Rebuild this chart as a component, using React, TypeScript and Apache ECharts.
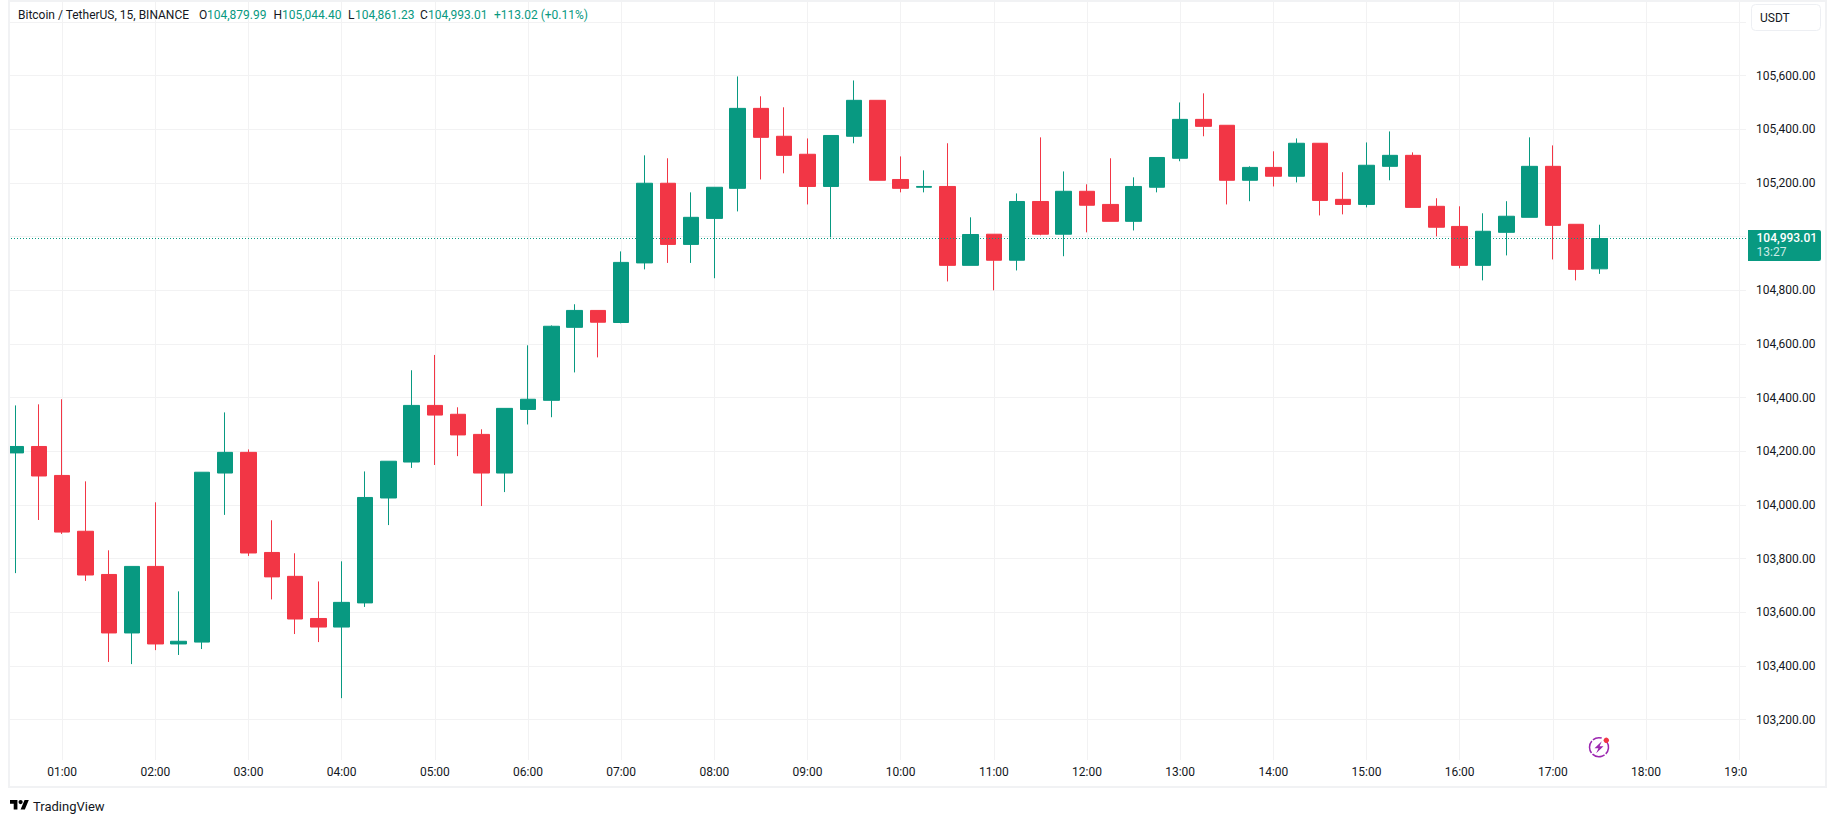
import React, { useEffect, useRef } from "react";
import * as echarts from "echarts";

const times = [
  "00:30","00:45","01:00","01:15","01:30","01:45","02:00","02:15","02:30","02:45","03:00","03:15","03:30","03:45",
  "04:00","04:15","04:30","04:45","05:00","05:15","05:30","05:45","06:00","06:15","06:30","06:45","07:00","07:15",
  "07:30","07:45","08:00","08:15","08:30","08:45","09:00","09:15","09:30","09:45","10:00","10:15","10:30","10:45",
  "11:00","11:15","11:30","11:45","12:00","12:15","12:30","12:45","13:00","13:15","13:30","13:45","14:00","14:15",
  "14:30","14:45","15:00","15:15","15:30","15:45","16:00","16:15","16:30","16:45","17:00","17:15","17:30",
];
const opens = [
  104194,104218,104110,103902,103741,103523,103771,103482,103489,104119,104196,103823,103734,103577,
  103545,103635,104026,104160,104371,104338,104263,104119,104356,104390,104662,104725,104680,104902,
  105199,104971,105068,105180,105478,105374,105307,105187,105374,105508,105213,105184,105187,104893,
  105009,104912,105131,105009,105169,105120,105057,105184,105292,105437,105415,105210,105258,105225,
  105348,105139,105120,105262,105303,105113,105038,104893,105016,105072,105262,105046,104879.99,
];
const closes = [
  104218,104108,103899,103739,103523,103771,103482,103492,104122,104196,103821,103732,103575,103545,
  103637,104028,104163,104371,104335,104261,104119,104360,104394,104666,104725,104681,104904,105199,
  104971,105072,105184,105478,105370,105303,105187,105377,105508,105210,105180,105187,104893,105008,
  104912,105131,105009,105169,105117,105057,105187,105295,105437,105411,105210,105258,105225,105348,
  105135,105120,105266,105303,105109,105035,104893,105020,105076,105262,105042,104878,104993.01,
];
const lows = [
  103746,103944,103892,103717,103415,103407,103459,103441,103463,103963,103810,103648,103519,103489,
  103280,103620,103925,104138,104149,104182,103996,104048,104300,104327,104494,104550,104677,104878,
  104902,104902,104845,105094,105213,105236,105120,104997,105348,105210,105165,105165,104833,104893,
  104800,104874,105005,104927,105016,105057,105023,105165,105281,105374,105120,105132,105187,105202,
  105079,105083,105109,105210,105109,105001,104882,104837,104930,105072,104915,104837,104861.23,
];
const highs = [
  104371,104375,104394,104088,103831,103771,104010,103678,104122,104345,104207,103943,103820,103715,
  103790,104125,104163,104502,104559,104364,104282,104360,104595,104669,104748,104725,104945,105303,
  105292,105165,105184,105597,105523,105482,105366,105377,105582,105508,105299,105247,105348,105072,
  105009,105161,105370,105243,105195,105292,105221,105295,105500,105534,105415,105262,105318,105366,
  105348,105240,105351,105392,105314,105143,105113,105087,105132,105370,105340,105046,105044.4,
];
const lastPrice = 104993.01;
const lastPriceText = "104,993.01";
const countdownText = "13:27";
const symbolText = "Bitcoin / TetherUS, 15, BINANCE";
const ohlcLabels = ["O", "H", "L", "C"];
const ohlcValues = ["104,879.99", "105,044.40", "104,861.23", "104,993.01"];
const changeText = "+113.02 (+0.11%)";
const currencyText = "USDT";
const brandText = "TradingView";

const GREEN = "#089981";
const RED = "#F23645";
const INK = "#131722";
const GRID = "#F2F2F3";
const FONT = "Roboto, sans-serif";

const LOGO_D = "M14 22H7V11H0V4h14v18zM28 22h-8l7.5-18h8L28 22zM24 8a4 4 0 1 1-8 0 4 4 0 0 1 8 0z";
echarts.graphic.registerShape("tvLogoPath", (echarts.graphic as any).extendPath(LOGO_D, {}));

const toMinutes = (t: string) => {
  const [h, m] = t.split(":").map(Number);
  return h * 60 + m;
};
const candles = times.map((t, i) => [toMinutes(t), opens[i], closes[i], lows[i], highs[i]]);

const hourLabel = (v: number) => {
  if (v <= 0 || v % 60 !== 0) return "";
  return String(v / 60).padStart(2, "0") + ":00";
};
const priceLabel = (v: number) => {
  if (v < 103200 || v > 105600) return "";
  return v.toLocaleString("en-US", { minimumFractionDigits: 2, maximumFractionDigits: 2 });
};

const label = (text: string, x: number, y: number, fill: string, extra: any = {}) => ({
  type: "text",
  x,
  y,
  z: 210,
  silent: true,
  style: { text, fill, font: `12px ${FONT}`, verticalAlign: "middle", ...extra },
});

const X_MAX = 1144.4;
const ohlcX = [199, 273.5, 348, 420];
const ohlcValueX = [207, 282, 355, 428];

export default function App() {
  const ref = useRef<HTMLDivElement>(null);
  useEffect(() => {
    document.body.style.margin = "0";
    document.body.style.background = "#fff";
    const chart = echarts.init(ref.current!, undefined, { renderer: "svg" });
    chart.setOption({
      animation: false,
      backgroundColor: "#fff",
      textStyle: { fontFamily: FONT },
      grid: { left: -31, top: -31.7, width: 1777, height: 805, containLabel: false, outerBoundsMode: "none" },
      xAxis: [
        {
          type: "value", min: 0, max: X_MAX, interval: 60, position: "bottom",
          axisLine: { show: false }, axisTick: { show: false }, axisLabel: { show: false },
          splitLine: { show: true, showMaxLine: false, lineStyle: { color: GRID, width: 1 } },
          z: 0,
        },
        {
          type: "value", min: 0, max: X_MAX, interval: 60, position: "bottom",
          axisLine: { show: false }, axisTick: { show: false },
          axisLabel: { show: true, margin: -7, color: INK, fontSize: 12, fontFamily: FONT, formatter: hourLabel, showMaxLabel: false },
          splitLine: { show: false },
          z: 100,
        },
      ],
      yAxis: {
        type: "value", min: 103000, max: 106000, interval: 200, position: "right",
        axisLine: { show: false }, axisTick: { show: false },
        axisLabel: {
          margin: 10, color: INK, fontSize: 12, fontFamily: FONT, padding: [0, 0, 3, 0], formatter: priceLabel,
          showMinLabel: false, showMaxLabel: false, hideOverlap: false,
        },
        splitLine: { show: true, showMinLine: false, showMaxLine: false, lineStyle: { color: GRID, width: 1 } },
      },
      series: [
        {
          type: "candlestick",
          xAxisIndex: 0,
          data: candles,
          encode: { x: 0, y: [1, 2, 3, 4] },
          barWidth: 16,
          itemStyle: { color: GREEN, color0: RED, borderColor: GREEN, borderColor0: RED, borderWidth: 1 },
          markLine: {
            silent: true, symbol: "none", animation: false,
            label: { show: false },
            lineStyle: { color: GREEN, width: 1, type: [1, 2] },
            data: [{ yAxis: lastPrice }],
          },
        },
      ],
      graphic: {
        elements: [
          { type: "rect", z: 50, silent: true, shape: { x: 0, y: 0, width: 9, height: 822 }, style: { fill: "#fff" } },
          { type: "rect", z: 50, silent: true, shape: { x: 0, y: 760, width: 1835, height: 62 }, style: { fill: "#fff" } },
          { type: "rect", z: 200, silent: true, shape: { x: 1747, y: 761, width: 88, height: 61 }, style: { fill: "#fff" } },
          { type: "rect", z: 205, silent: true, shape: { x: 9, y: 1, width: 1817, height: 786 }, style: { fill: "none", stroke: "#F1F2F4", lineWidth: 2 } },
          label(symbolText, 18, 15, INK),
          ...ohlcLabels.map((t, i) => label(t, ohlcX[i], 15, INK)),
          ...ohlcValues.map((t, i) => label(t, ohlcValueX[i], 15, GREEN)),
          label(changeText, 494, 15, GREEN),
          { type: "rect", z: 205, silent: true, shape: { x: 1751.5, y: 4.5, width: 69, height: 26, r: 4 }, style: { fill: "#fff", stroke: "#EDEFF3", lineWidth: 1 } },
          label(currencyText, 1760, 17.5, INK),
          { type: "rect", z: 205, silent: true, shape: { x: 1748, y: 230, width: 73, height: 31, r: [0, 2, 2, 0] }, style: { fill: GREEN } },
          label(lastPriceText, 1756.5, 238, "#fff", { font: `500 12px ${FONT}` }),
          label(countdownText, 1756.5, 252, "#CBEAE5"),
          { type: "arc", z: 210, silent: true, shape: { cx: 1599, cy: 747.2, r: 9.5, startAngle: -0.6, endAngle: 5.0, clockwise: true }, style: { fill: "none", stroke: "#9C27B0", lineWidth: 1.5, lineDash: [13, 1.5] } },
          { type: "polygon", z: 210, silent: true, shape: { points: [[1601.8, 741.2], [1594.5, 748.2], [1598.4, 748.2], [1596.2, 753.2], [1603.5, 746.2], [1599.6, 746.2]] }, style: { fill: "#9C27B0" } },
          { type: "circle", z: 211, silent: true, shape: { cx: 1606.3, cy: 740.3, r: 2.7 }, style: { fill: RED } },
          { type: "tvLogoPath", z: 210, silent: true, x: 10, y: 797.8, scaleX: 0.53, scaleY: 0.53, style: { fill: "#000" } },
          label(brandText, 33, 806, INK, { font: `13px ${FONT}` }),
        ],
      },
    });
    return () => chart.dispose();
  }, []);
  return <div ref={ref} style={{ position: "absolute", left: 0, top: 0, width: 1835, height: 822 }} />;
}
